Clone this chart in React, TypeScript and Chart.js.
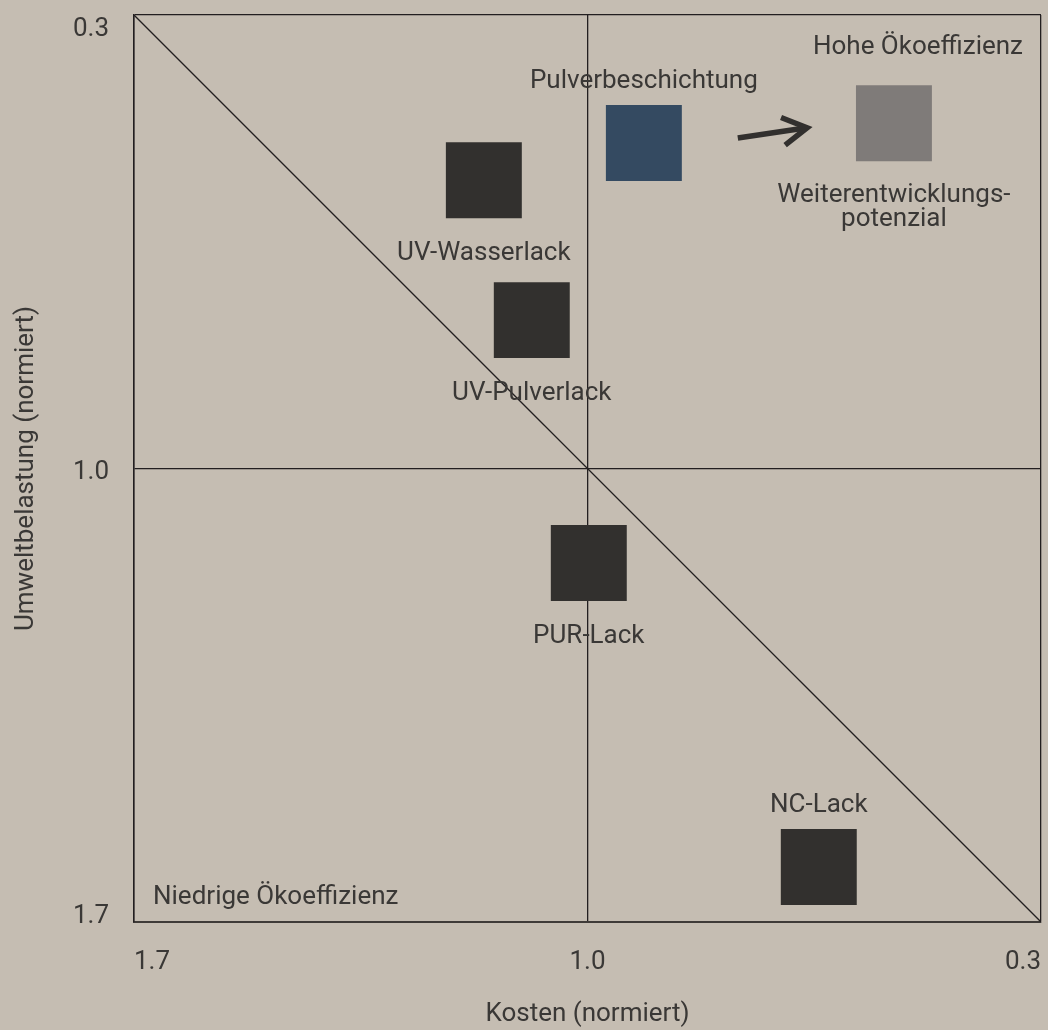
import React, { useEffect, useRef } from "react";
import { Chart, registerables } from "chart.js";

Chart.register(...registerables);

// ---- data ----
const methods = ["UV-Wasserlack", "UV-Pulverlack", "Pulverbeschichtung", "PUR-Lack", "NC-Lack"];
const kosten = [1.16, 1.086, 0.913, 0.998, 0.643];
const umwelt = [0.555, 0.771, 0.4975, 1.146, 1.615];
const labelAbove = [false, false, true, false, true];
const methodColors = ["#32302e", "#32302e", "#344a61", "#32302e", "#32302e"];

const potentialLabel = ["Weiterentwicklungs-", "potenzial"];
const potentialKosten = [0.527];
const potentialUmwelt = [0.467];

const arrowKosten = [0.768, 0.661];
const arrowUmwelt = [0.49, 0.474];

const diagonalKosten = [1.7, 0.3];
const diagonalUmwelt = [0.3, 1.7];

const tickValues = [0.3, 1.0, 1.7];
const tickLabels = ["0.3", "1.0", "1.7"];

const xTitle = "Kosten (normiert)";
const yTitle = "Umweltbelastung (normiert)";
const highLabel = "Hohe Ökoeffizienz";
const lowLabel = "Niedrige Ökoeffizienz";

// ---- style ----
const BG = "#c5bdb2";
const TEXT = "#3a3836";
const LINE = "#231f20";
const FONT = "Roboto";

const annotationPlugin = {
  id: "annotations",
  beforeDraw(chart: any) {
    const ctx = chart.ctx;
    ctx.save();
    ctx.fillStyle = BG;
    ctx.fillRect(0, 0, chart.width, chart.height);
    ctx.restore();
  },
  afterDatasetsDraw(chart: any) {
    const ctx = chart.ctx;
    const xs = chart.scales.x;
    const ys = chart.scales.y;
    const area = chart.chartArea;
    ctx.save();
    ctx.font = `26px ${FONT}`;
    ctx.fillStyle = TEXT;
    ctx.textBaseline = "alphabetic";
    ctx.textAlign = "center";
    methods.forEach((m, i) => {
      const px = xs.getPixelForValue(kosten[i]);
      const py = ys.getPixelForValue(umwelt[i]);
      ctx.fillText(m, px, labelAbove[i] ? py - 55 : py + 80);
    });
    const gx = xs.getPixelForValue(potentialKosten[0]);
    const gy = ys.getPixelForValue(potentialUmwelt[0]);
    potentialLabel.forEach((t, i) => ctx.fillText(t, gx, gy + 79 + i * 24));

    ctx.textAlign = "right";
    ctx.fillText(highLabel, area.right - 18, area.top + 39);
    ctx.textAlign = "left";
    ctx.fillText(lowLabel, area.left + 19, area.bottom - 18);

    // arrow
    const x0 = xs.getPixelForValue(arrowKosten[0]);
    const y0 = ys.getPixelForValue(arrowUmwelt[0]);
    const x1 = xs.getPixelForValue(arrowKosten[1]);
    const y1 = ys.getPixelForValue(arrowUmwelt[1]);
    const ang = Math.atan2(y0 - y1, x0 - x1);
    const hl = 28;
    ctx.strokeStyle = "#32302e";
    ctx.lineWidth = 5.5;
    ctx.lineJoin = "miter";
    ctx.lineCap = "butt";
    ctx.beginPath();
    ctx.moveTo(x0, y0);
    ctx.lineTo(x1 - 2 * Math.cos(ang + Math.PI), y1 - 2 * Math.sin(ang + Math.PI));
    ctx.stroke();
    ctx.beginPath();
    ctx.moveTo(x1 + hl * Math.cos(ang - 0.52), y1 + hl * Math.sin(ang - 0.52));
    ctx.lineTo(x1, y1);
    ctx.lineTo(x1 + hl * Math.cos(ang + 0.52), y1 + hl * Math.sin(ang + 0.52));
    ctx.stroke();
    ctx.restore();
  },
};

export default function App() {
  const ref = useRef<HTMLCanvasElement>(null);
  useEffect(() => {
    if (!ref.current) return;
    document.body.style.background = BG;
    Chart.defaults.font.family = FONT;
    const chart = new Chart(ref.current, {
      type: "scatter",
      data: {
        datasets: [
          {
            data: methods.map((_, i) => ({ x: kosten[i], y: umwelt[i] })),
            pointStyle: "rect",
            pointRadius: 53.7,
            pointHoverRadius: 53.7,
            backgroundColor: methodColors,
            borderWidth: 0,
            order: 1,
          },
          {
            data: potentialKosten.map((v, i) => ({ x: v, y: potentialUmwelt[i] })),
            pointStyle: "rect",
            pointRadius: 53.7,
            backgroundColor: "#7f7b79",
            borderWidth: 0,
            order: 1,
          },
          {
            type: "line",
            data: diagonalKosten.map((v, i) => ({ x: v, y: diagonalUmwelt[i] })),
            borderColor: LINE,
            borderWidth: 1.3,
            pointRadius: 0,
            fill: false,
            order: 10,
          } as any,
        ],
      },
      options: {
        animation: false,
        responsive: false,
        events: [],
        layout: { autoPadding: false, padding: { top: 15, right: 7, left: 0, bottom: 0 } },
        plugins: { legend: { display: false }, tooltip: { enabled: false } },
        scales: {
          x: {
            type: "linear",
            min: 0.3,
            max: 1.7,
            reverse: true,
            afterBuildTicks: (s: any) => {
              s.ticks = tickValues.map((v) => ({ value: v }));
            },
            afterFit: (s: any) => {
              s.height = 108;
              s.paddingLeft = 0;
              s.paddingRight = 0;
            },
            grid: { color: LINE, lineWidth: 1.3, drawTicks: false },
            border: { color: "#3f3b38", width: 2 },
            ticks: {
              align: "inner",
              padding: 25,
              color: TEXT,
              font: { size: 26 },
              maxRotation: 0,
              callback: (v: any) => tickLabels[tickValues.indexOf(Number(v))],
            },
            title: {
              display: true,
              text: xTitle,
              color: TEXT,
              font: { size: 26 },
              padding: { top: 10, bottom: 0 },
            },
          },
          y: {
            type: "linear",
            min: 0.3,
            max: 1.7,
            reverse: true,
            afterBuildTicks: (s: any) => {
              s.ticks = tickValues.map((v) => ({ value: v }));
            },
            afterFit: (s: any) => {
              s.width = 134;
              s.paddingTop = 0;
              s.paddingBottom = 0;
            },
            grid: { color: LINE, lineWidth: 1.3, drawTicks: false },
            border: { color: LINE, width: 1.5 },
            ticks: {
              padding: 25,
              labelOffset: 4,
              color: TEXT,
              font: { size: 26, lineHeight: "20px" },
              callback: (v: any) => {
                const i = tickValues.indexOf(Number(v));
                if (i === 0) return ["", tickLabels[i]];
                if (i === tickValues.length - 1) return [tickLabels[i], ""];
                return tickLabels[i];
              },
            },
            title: {
              display: true,
              text: yTitle,
              color: TEXT,
              font: { size: 26 },
              padding: { top: 11, bottom: 0 },
            },
          },
        },
      },
      plugins: [annotationPlugin],
    } as any);
    return () => chart.destroy();
  }, []);
  return (
    <div style={{ position: "absolute", left: 0, top: 0, width: 1048, height: 1030, background: BG }}>
      <canvas ref={ref} width={1048} height={1030} style={{ display: "block" }} />
    </div>
  );
}
